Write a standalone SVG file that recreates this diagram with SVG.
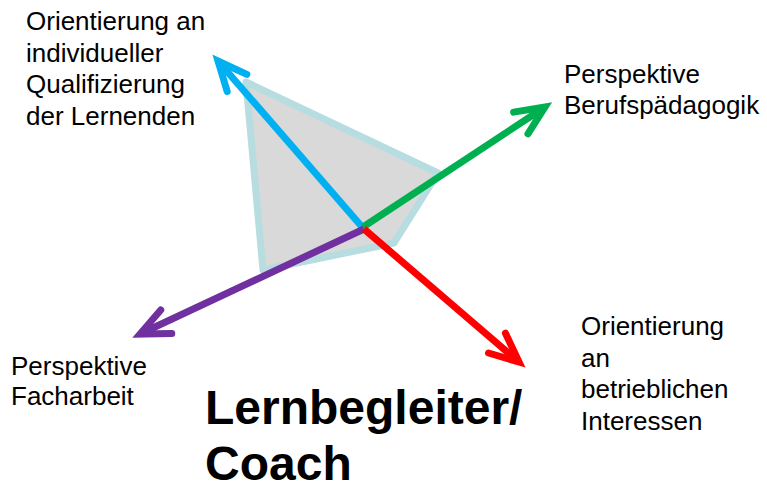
<svg xmlns="http://www.w3.org/2000/svg" width="767" height="485" viewBox="0 0 767 485">
  <style>
    .lbl { font-family: "Liberation Sans", Arial, sans-serif; font-size: 26px; fill: #000; }
    .title { font-family: "Liberation Sans", Arial, sans-serif; font-size: 48px; font-weight: bold; fill: #000; }
    .axis { fill: none; stroke-width: 7; stroke-linecap: butt; }
    .head { fill: none; stroke-width: 7; stroke-linecap: round; stroke-linejoin: miter; }
  </style>
  <defs>
    <marker id="ah-blue" markerUnits="userSpaceOnUse" orient="auto" markerWidth="60" markerHeight="60" refX="0" refY="0" viewBox="-40 -30 60 60" overflow="visible">
      <path class="head" d="M -29,-13 L 0,0 L -29,13" stroke="#00b0f0"/>
    </marker>
    <marker id="ah-green" markerUnits="userSpaceOnUse" orient="auto" markerWidth="60" markerHeight="60" refX="0" refY="0" viewBox="-40 -30 60 60" overflow="visible">
      <path class="head" d="M -29,-13 L 0,0 L -29,13" stroke="#00b050"/>
    </marker>
    <marker id="ah-purple" markerUnits="userSpaceOnUse" orient="auto" markerWidth="60" markerHeight="60" refX="0" refY="0" viewBox="-40 -30 60 60" overflow="visible">
      <path class="head" d="M -29,-13 L 0,0 L -29,13" stroke="#7030a0"/>
    </marker>
    <marker id="ah-red" markerUnits="userSpaceOnUse" orient="auto" markerWidth="60" markerHeight="60" refX="0" refY="0" viewBox="-40 -30 60 60" overflow="visible">
      <path class="head" d="M -29,-13 L 0,0 L -29,13" stroke="#ff0000"/>
    </marker>
  </defs>

  <g id="profile">
    <polygon points="246,82 438,173 394,243 263,270" fill="#d9d9d9" stroke="#b7dde0" stroke-width="7" stroke-linejoin="round"/>
  </g>

  <g id="connectors">
    <line class="axis" x1="363" y1="228" x2="218" y2="61" stroke="#00b0f0" marker-end="url(#ah-blue)"/>
    <line class="axis" x1="363" y1="227" x2="545" y2="107" stroke="#00b050" marker-end="url(#ah-green)"/>
    <line class="axis" x1="364" y1="229" x2="140" y2="334" stroke="#7030a0" marker-end="url(#ah-purple)"/>
    <line class="axis" x1="364" y1="229" x2="519" y2="362" stroke="#ff0000" marker-end="url(#ah-red)"/>
  </g>

  <g id="node-individuell">
    <text class="lbl" x="26" y="30">Orientierung an</text>
    <text class="lbl" x="26" y="62">individueller</text>
    <text class="lbl" x="26" y="93">Qualifizierung</text>
    <text class="lbl" x="26" y="125">der Lernenden</text>
  </g>
  <g id="node-berufspaedagogik">
    <text class="lbl" x="564" y="83">Perspektive</text>
    <text class="lbl" x="564" y="114">Berufspädagogik</text>
  </g>
  <g id="node-facharbeit">
    <text class="lbl" x="11" y="375">Perspektive</text>
    <text class="lbl" x="11" y="405">Facharbeit</text>
  </g>
  <g id="node-betrieblich">
    <text class="lbl" x="581" y="335">Orientierung</text>
    <text class="lbl" x="581" y="367">an</text>
    <text class="lbl" x="581" y="398">betrieblichen</text>
    <text class="lbl" x="581" y="430">Interessen</text>
  </g>
  <g id="node-coach">
    <text class="title" x="205" y="424">Lernbegleiter/</text>
    <text class="title" x="205" y="480">Coach</text>
  </g>
</svg>
